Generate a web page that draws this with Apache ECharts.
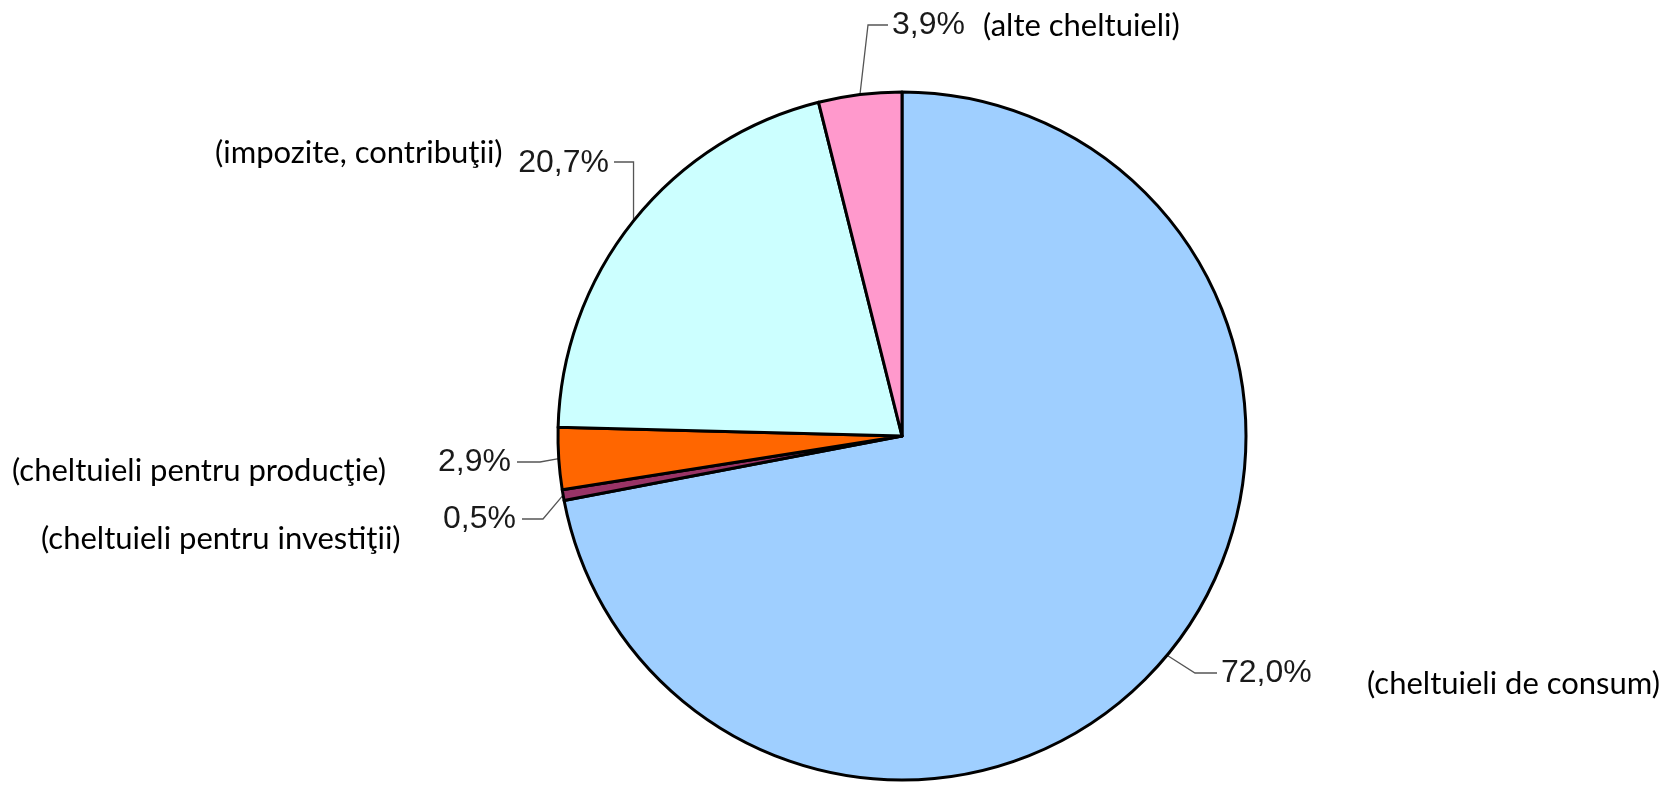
<!DOCTYPE html>
<html>
<head>
<meta charset="utf-8">
<script src="https://cdn.jsdelivr.net/npm/echarts@6/dist/echarts.min.js"></script>
<style>
  html, body { margin: 0; padding: 0; background: #fff; }
  #pie { width: 1666px; height: 788px; }
</style>
</head>
<body>
<div id="pie"></div>
<script>
// date: structura cheltuielilor (%)
var categories = ['cheltuieli de consum', 'cheltuieli pentru investiţii', 'cheltuieli pentru producţie', 'impozite, contribuţii', 'alte cheltuieli'];
var shares = [72.0, 0.5, 2.9, 20.7, 3.9];

// culori felii
var palette = ['#9fcfff', '#993366', '#ff6600', '#ccffff', '#ff99cc'];

// pozitia etichetelor procentuale (x, y, aliniere, cot linie)
var pctPos = [
    { x: 1221, y: 673, align: 'left', elbow: [1195, 673], end: [1217, 673] },
    { x: 516, y: 519, align: 'right', elbow: [543, 519], end: [522, 519] },
    { x: 511, y: 462, align: 'right', elbow: [540, 462], end: [517, 462] },
    { x: 609, y: 163, align: 'right', elbow: null, end: [614, 162] },
    { x: 892, y: 25, align: 'left', elbow: [868, 25], end: [888, 25] }
];
// pozitia denumirilor
var namePos = [
    { x: 1367, y: 684 },
    { x: 41, y: 539 },
    { x: 12, y: 471 },
    { x: 215, y: 153 },
    { x: 983, y: 26 }
];

(function(){
    var myChart = echarts.init(document.getElementById('pie'));

    var data = shares.map(function(v, i){
        return { value: v, name: categories[i], itemStyle: { color: palette[i] } };
    });

    var names = categories.map(function(c, i){
        return {
            type: 'text',
            x: namePos[i].x,
            y: namePos[i].y,
            style: {
                text: '(' + c + ')',
                fontFamily: 'Lato',
                fontSize: 31,
                fill: '#000',
                align: 'left',
                verticalAlign: 'middle'
            }
        };
    });

    var option = {
        animation: false,
        graphic: names,
        series: [
            {
                type: 'pie',
                center: [902, 436],
                radius: 344,
                startAngle: 90,
                clockwise: true,
                silent: true,
                avoidLabelOverlap: false,
                itemStyle: {
                    borderColor: '#000',
                    borderWidth: 3
                },
                label: {
                    show: true,
                    position: 'outside',
                    fontFamily: 'Liberation Sans',
                    fontSize: 32,
                    color: '#1a1a1a',
                    formatter: function(p){
                        return p.value.toFixed(1).replace('.', ',') + '%';
                    }
                },
                labelLine: {
                    show: true,
                    lineStyle: { color: '#555', width: 1.3 }
                },
                labelLayout: function(p){
                    var L = pctPos[p.dataIndex];
                    var start = p.labelLinePoints ? p.labelLinePoints[0] : [0, 0];
                    var elbow = L.elbow || [start[0], L.end[1]];
                    return {
                        x: L.x,
                        y: L.y,
                        align: L.align,
                        verticalAlign: 'middle',
                        labelLinePoints: [start, elbow, L.end]
                    };
                },
                data: data
            }
        ]
    };
    myChart.setOption(option);
})();
</script>
</body>
</html>
